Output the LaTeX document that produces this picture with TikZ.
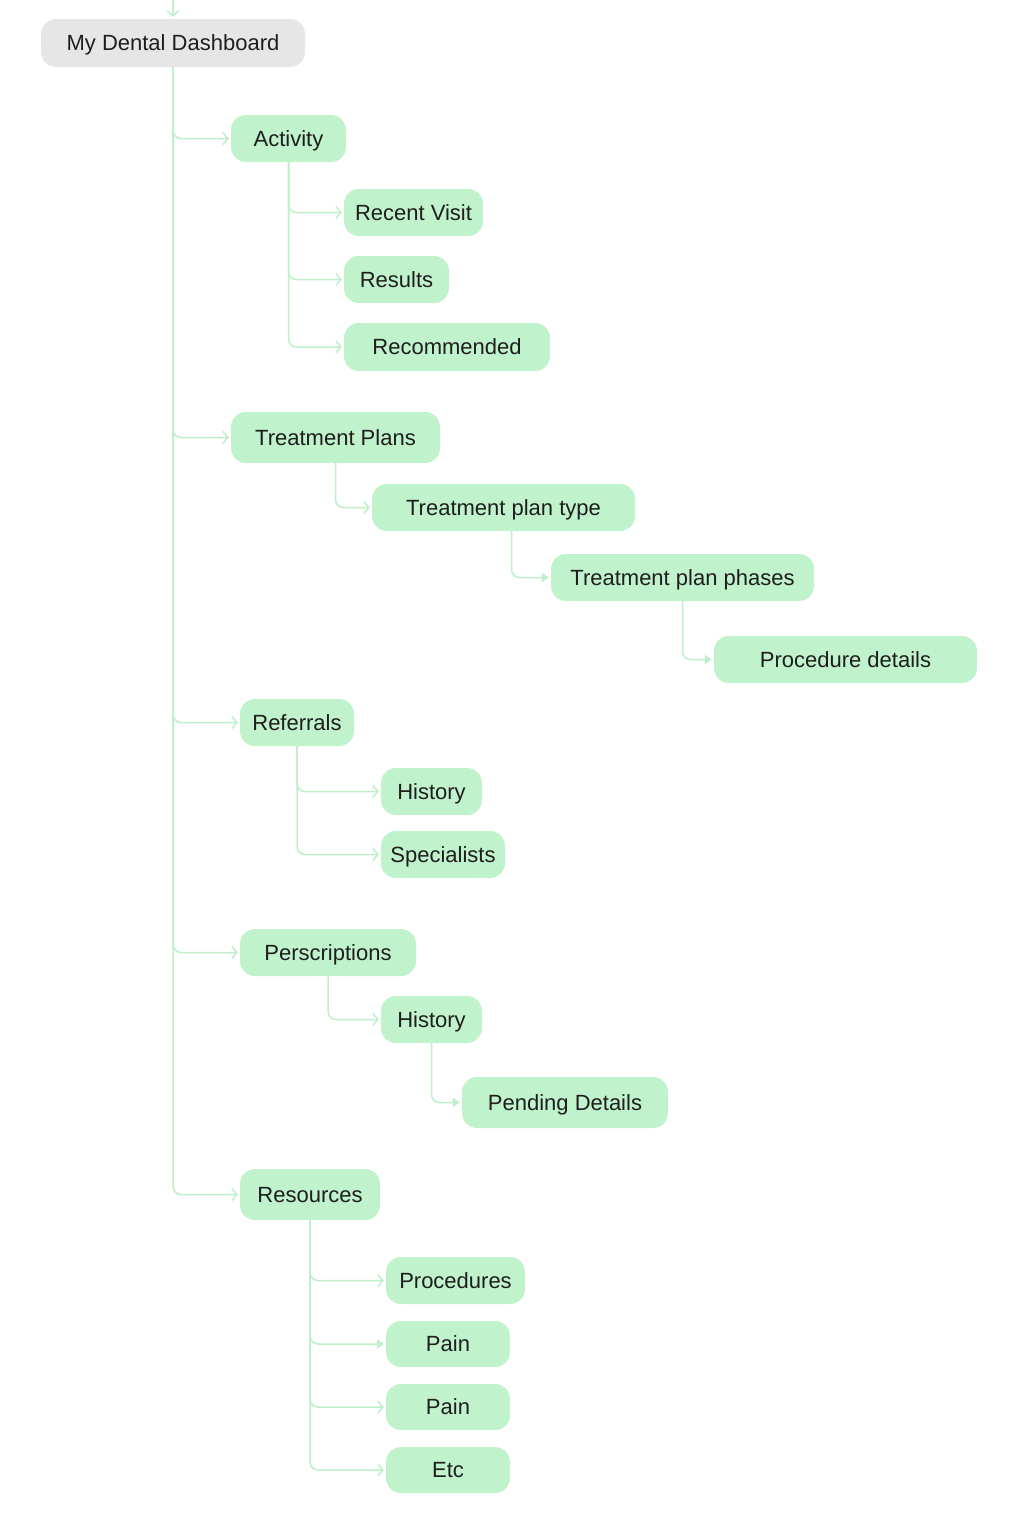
\documentclass[tikz,border=0pt]{standalone}
\usepackage{fontspec}
\setmainfont{Liberation Sans}
\usetikzlibrary{arrows.meta}
\definecolor{boxgreen}{HTML}{C0F2CB}
\definecolor{linegreen}{HTML}{BDEFC9}
\definecolor{boxgray}{HTML}{E6E6E6}
\definecolor{txt}{HTML}{1E1E1E}
\begin{document}
\begin{tikzpicture}[x=1pt,y=-1pt,
  box/.style={rounded corners=15pt, fill=boxgreen, text=txt, font=\fontsize{22}{26}\selectfont, minimum height=47pt, inner sep=0pt, text height=15.8pt, text depth=0pt},
  conn/.style={draw=linegreen, line width=1.5pt, rounded corners=8pt, -{Straight Barb[length=5pt,width=12pt]}, shorten >=2pt},
  connf/.style={conn, -{Triangle[length=7pt,width=9pt]}}]
\useasboundingbox (0,0) rectangle (1012,1526);

\node[box, fill=boxgray, minimum width=264pt, minimum height=48pt] (dash) at (173,43) {My Dental Dashboard};

\node[box, minimum width=115pt] (act) at (288.5,138.5) {Activity};
\node[box, minimum width=139pt] (recent) at (413.5,212.5) {Recent Visit};
\node[box, minimum width=105pt] (results) at (396.5,279.5) {Results};
\node[box, minimum width=206pt, minimum height=48pt] (recom) at (447,347) {Recommended};

\node[box, minimum width=209pt, minimum height=51pt] (tplans) at (335.5,437.5) {Treatment Plans};
\node[box, minimum width=263pt] (ttype) at (503.5,507.5) {Treatment plan type};
\node[box, minimum width=263pt] (tphase) at (682.5,577.5) {Treatment plan phases};
\node[box, minimum width=263pt] (proc) at (845.5,659.5) {Procedure details};

\node[box, minimum width=114pt] (ref) at (297,722.5) {Referrals};
\node[box, minimum width=101pt] (rhist) at (431.5,791.5) {History};
\node[box, minimum width=124pt] (spec) at (443,854.5) {Specialists};

\node[box, minimum width=176pt] (pers) at (328,952.5) {Perscriptions};
\node[box, minimum width=101pt] (phist) at (431.5,1019.5) {History};
\node[box, minimum width=206pt, minimum height=51pt] (pend) at (565,1102.5) {Pending Details};

\node[box, minimum width=140pt, minimum height=51pt] (res) at (310,1194.5) {Resources};
\node[box, minimum width=139pt] (procs) at (455.5,1280.5) {Procedures};
\node[box, minimum width=124pt, minimum height=46pt] (pain1) at (448,1344) {Pain};
\node[box, minimum width=124pt, minimum height=46pt] (pain2) at (448,1407) {Pain};
\node[box, minimum width=124pt, minimum height=46pt] (etc) at (448,1470) {Etc};

\coordinate (top) at (173,0);
\draw[conn] (top) -- (dash.north);

\draw[conn] (dash.south) |- (act.west);
\draw[conn] (dash.south) |- (tplans.west);
\draw[conn] (dash.south) |- (ref.west);
\draw[conn] (dash.south) |- (pers.west);
\draw[conn] (dash.south) |- (res.west);

\draw[conn] (act.south) |- (recent.west);
\draw[conn] (act.south) |- (results.west);
\draw[conn] (act.south) |- (recom.west);

\draw[conn] (tplans.south) |- (ttype.west);
\draw[connf] ([xshift=8pt]ttype.south) |- (tphase.west);
\draw[connf] (tphase.south) |- (proc.west);

\draw[conn] (ref.south) |- (rhist.west);
\draw[conn] (ref.south) |- (spec.west);

\draw[conn] (pers.south) |- (phist.west);
\draw[connf] (phist.south) |- (pend.west);

\draw[conn] (res.south) |- (procs.west);
\draw[connf] (res.south) |- (pain1.west);
\draw[conn] (res.south) |- (pain2.west);
\draw[conn] (res.south) |- (etc.west);
\end{tikzpicture}
\end{document}
